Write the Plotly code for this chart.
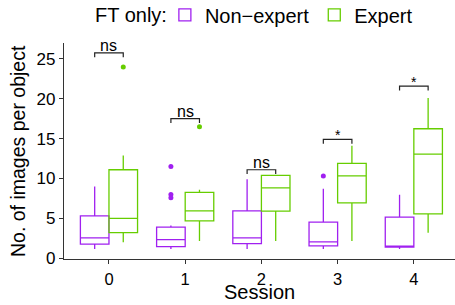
import plotly.graph_objects as go

sessions = [0, 1, 2, 3, 4]

# Non-expert box stats
ne_q1 = [1.76, 1.46, 1.84, 1.55, 1.38]
ne_med = [2.55, 2.34, 2.55, 2.05, 1.5]
ne_q3 = [5.3, 3.9, 5.94, 4.52, 5.15]
ne_lo = [1.17, 1.17, 1.17, 1.17, 1.17]
ne_hi = [9.0, 4.1, 9.9, 8.7, 7.95]
# outliers: (session, value)
ne_out_session = [1, 1, 1, 3]
ne_out_value = [11.5, 8.0, 7.6, 10.3]

# Expert box stats
ex_q1 = [3.2, 4.69, 5.9, 6.95, 5.56]
ex_med = [5.0, 5.94, 8.83, 10.34, 13.06]
ex_q3 = [11.1, 8.25, 10.4, 11.9, 16.24]
ex_lo = [2.0, 2.17, 2.17, 2.17, 3.18]
ex_hi = [12.9, 8.6, 10.4, 14.1, 20.1]
ex_out_session = [0, 1]
ex_out_value = [24.0, 16.5]

# Significance brackets
sig_y = [25.75, 17.5, 11.1, 14.9, 21.6]
sig_label = ["ns", "ns", "ns", "*", "*"]

y_ticks = [0, 5, 10, 15, 20, 25]

PURPLE = "#A020F0"
GREEN = "#66CD00"
FONT = "Liberation Sans, Arial, sans-serif"

BOXGAP = 0.25
dodge = (1 - BOXGAP) / 4  # centre offset of each dodged box

fig = go.Figure()
fig.add_trace(go.Box(
    name="Non\u2212expert", x=sessions,
    q1=ne_q1, median=ne_med, q3=ne_q3,
    lowerfence=ne_lo, upperfence=ne_hi,
    boxpoints=False, fillcolor="rgba(0,0,0,0)",
    line=dict(color=PURPLE, width=1.3), whiskerwidth=0,
    offsetgroup="ne",
))
fig.add_trace(go.Box(
    name="Expert", x=sessions,
    q1=ex_q1, median=ex_med, q3=ex_q3,
    lowerfence=ex_lo, upperfence=ex_hi,
    boxpoints=False, fillcolor="rgba(0,0,0,0)",
    line=dict(color=GREEN, width=1.3), whiskerwidth=0,
    offsetgroup="ex",
))

fig.add_trace(go.Scatter(
    x=[s - dodge for s in ne_out_session], y=ne_out_value,
    mode="markers", marker=dict(color=PURPLE, size=5),
    showlegend=False, hoverinfo="skip",
))
fig.add_trace(go.Scatter(
    x=[s + dodge for s in ex_out_session], y=ex_out_value,
    mode="markers", marker=dict(color=GREEN, size=5),
    showlegend=False, hoverinfo="skip",
))

tip = 0.55
for s, yv, lab in zip(sessions, sig_y, sig_label):
    fig.add_trace(go.Scatter(
        x=[s - dodge, s - dodge, s + dodge, s + dodge],
        y=[yv - tip, yv, yv, yv - tip],
        mode="lines", line=dict(color="#222222", width=1.2),
        showlegend=False, hoverinfo="skip",
    ))
    fig.add_annotation(
        x=s, y=yv, text=lab, showarrow=False, yanchor="bottom",
        yshift=-3 if lab == "ns" else -6,
        font=dict(size=16 if lab == "ns" else 14, color="black", family=FONT),
    )

# axis titles and legend title
fig.add_annotation(
    x=0.5, xref="paper", y=0, yref="paper", yanchor="middle", yshift=-33,
    text="Session", showarrow=False,
    font=dict(size=20, color="black", family=FONT),
)
fig.add_annotation(
    x=0, xref="paper", xanchor="center", xshift=-46,
    y=0.5, yref="paper", yanchor="middle", textangle=-90,
    text="No. of images per object", showarrow=False,
    font=dict(size=19.5, color="black", family=FONT),
)
fig.add_annotation(
    x=0, xref="paper", xanchor="left", xshift=29,
    y=1, yref="paper", yanchor="middle", yshift=28,
    text="FT only:", showarrow=False,
    font=dict(size=20, color="black", family=FONT),
)

fig.update_layout(
    width=455, height=305,
    margin=dict(l=64, r=0, t=43, b=46, autoexpand=False),
    paper_bgcolor="white", plot_bgcolor="white",
    boxmode="group", boxgap=BOXGAP, boxgroupgap=0.0,
    font=dict(family=FONT, size=16, color="black"),
    showlegend=True,
    legend=dict(
        orientation="h", x=0.258, xanchor="left", y=1.13, yanchor="middle",
        font=dict(size=20), itemwidth=30, traceorder="normal",
        bgcolor="rgba(0,0,0,0)",
    ),
    xaxis=dict(
        range=[-0.59, 4.54], tickmode="array", tickvals=sessions,
        ticktext=[str(s) for s in sessions],
        showline=True, linecolor="#333333", linewidth=1.2,
        ticks="outside", ticklen=4, tickcolor="#333333",
        showgrid=False, zeroline=False, automargin=False,
        tickfont=dict(size=16.5, color="black"), ticklabelstandoff=1,
    ),
    yaxis=dict(
        range=[-0.1, 27.0], tickmode="array", tickvals=y_ticks,
        showline=True, linecolor="#333333", linewidth=1.2,
        ticks="outside", ticklen=4, tickcolor="#333333",
        showgrid=False, zeroline=False, automargin=False,
        tickfont=dict(size=17, color="black"),
    ),
)

fig.write_html("out.html", config={"displayModeBar": False},
               post_script="document.body.style.margin='0';")
